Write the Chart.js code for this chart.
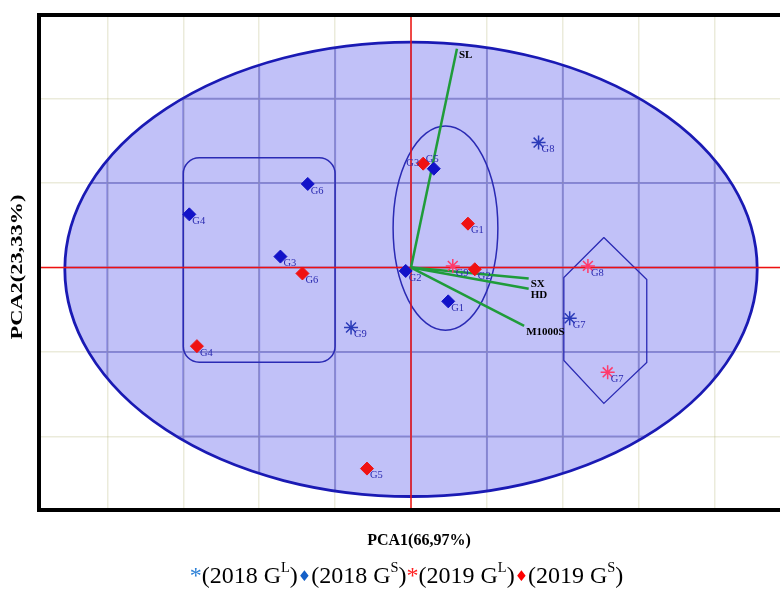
<!DOCTYPE html>
<html>
<head>
<meta charset="utf-8">
<script src="https://cdn.jsdelivr.net/npm/chart.js@4"></script>
<style>
  html, body { margin: 0; padding: 0; background: #fff; }
  #wrap { position: relative; width: 780px; height: 595px; overflow: hidden; }
  #legend {
    position: absolute; left: 0; width: 813px; top: 562px;
    text-align: center; white-space: nowrap;
    font-family: "Liberation Serif", "Times New Roman", serif; font-size: 24px; color: #000;
  }
  #legend sup { font-size: 0.6em; vertical-align: 0.75em; line-height: 0; }
  #legend .ast { font-size: 1em; }
  #legend .dia { font-family: "DejaVu Sans", sans-serif; font-size: 0.62em; vertical-align: 0.12em; }
</style>
</head>
<body>
<div id="wrap">
  <canvas id="pcaChart" width="780" height="595"></canvas>
  <div id="legend"><span class="ast" style="color:#2a7fd6">*</span>(2018 G<sup>L</sup>)<span class="dia" style="color:#1560c8">&#9830;</span>(2018 G<sup>S</sup>)<span class="ast" style="color:#ff2020">*</span>(2019 G<sup>L</sup>)<span class="dia" style="color:#ff0000">&#9830;</span>(2019 G<sup>S</sup>)</div>
</div>
<script>
// 軸の範囲（グリッド1目盛り = 1）
const xRange = [-4.9, 4.86];
const yRange = [-2.87, 2.99];

// 2018 GL（青の *）
const gl2018Labels = ['G8', 'G9', 'G7'];
const gl2018X = [1.68, -0.79, 2.09];
const gl2018Y = [1.48, -0.71, -0.60];

// 2018 GS（青の ◆）
const gs2018Labels = ['G6', 'G4', 'G3', 'G5', 'G2', 'G1'];
const gs2018X = [-1.36, -2.92, -1.72, 0.30, -0.07, 0.49];
const gs2018Y = [0.99, 0.63, 0.13, 1.17, -0.04, -0.40];

// 2019 GL（赤の *）
const gl2019Labels = ['G9', 'G8', 'G7'];
const gl2019X = [0.55, 2.33, 2.59];
const gl2019Y = [0.02, 0.02, -1.24];

// 2019 GS（赤の ◆）
const gs2019Labels = ['G3', 'G1', 'G2', 'G6', 'G4', 'G5'];
const gs2019X = [0.16, 0.75, 0.84, -1.43, -2.82, -0.58];
const gs2019Y = [1.23, 0.52, -0.02, -0.07, -0.93, -2.38];

// 変数ベクトル
const vectorNames = ['SL', 'SX', 'HD', 'M1000S'];
const vectorX = [0.605, 1.55, 1.55, 1.49];
const vectorY = [2.59, -0.13, -0.25, -0.69];

// グループの輪郭
const bigEllipse = [0.0, -0.02, 4.56, 2.69];   // cx, cy, rx, ry
const groupOval = [0.454, 0.467, 0.69, 1.21];  // cx, cy, rx, ry
const groupBox = [-3.0, 1.30, -1.0, -1.12];    // x1, y1, x2, y2
const hexX = [2.54, 3.105, 3.105, 2.54, 2.013, 2.013, 2.54];
const hexY = [0.355, -0.142, -1.123, -1.608, -1.099, -0.118, 0.355];

function toPoints(xs, ys) {
  return xs.map((x, i) => ({ x: x, y: ys[i] }));
}

function ellipsePath(ctx, chart, e) {
  const sx = chart.scales.x, sy = chart.scales.y;
  const cx = sx.getPixelForValue(e[0]);
  const cy = sy.getPixelForValue(e[1]);
  const rx = sx.getPixelForValue(e[0] + e[2]) - cx;
  const ry = cy - sy.getPixelForValue(e[1] + e[3]);
  ctx.beginPath();
  ctx.ellipse(cx, cy, rx, ry, 0, 0, Math.PI * 2);
}

// 背景・楕円の塗り・楕円内のグリッド・輪郭
const shapesBelow = {
  id: 'shapesBelow',
  beforeDraw(chart) {
    const ctx = chart.ctx;
    ctx.save();
    ctx.fillStyle = '#fff';
    ctx.fillRect(0, 0, chart.width, chart.height);
    const a = chart.chartArea;
    ctx.beginPath();
    ctx.rect(a.left, a.top, a.right - a.left, a.bottom - a.top);
    ctx.clip();
    ellipsePath(ctx, chart, bigEllipse);
    ctx.fillStyle = '#c1c1f8';
    ctx.fill();
    ctx.restore();
  },
  beforeDatasetsDraw(chart) {
    const ctx = chart.ctx;
    const sx = chart.scales.x, sy = chart.scales.y;
    const a = chart.chartArea;
    ctx.save();
    // 楕円の内側ではグリッドが濃い青に見える
    ellipsePath(ctx, chart, bigEllipse);
    ctx.clip();
    ctx.strokeStyle = 'rgba(60,60,195,0.42)';
    ctx.lineWidth = 2;
    ctx.beginPath();
    sx.ticks.forEach(t => {
      const px = sx.getPixelForValue(t.value);
      ctx.moveTo(px, a.top);
      ctx.lineTo(px, a.bottom);
    });
    sy.ticks.forEach(t => {
      const py = sy.getPixelForValue(t.value);
      ctx.moveTo(a.left, py);
      ctx.lineTo(a.right, py);
    });
    ctx.stroke();
    ctx.restore();

    ctx.save();
    ellipsePath(ctx, chart, bigEllipse);
    ctx.strokeStyle = '#1a1ab4';
    ctx.lineWidth = 2.8;
    ctx.stroke();

    ellipsePath(ctx, chart, groupOval);
    ctx.strokeStyle = '#2a2ab4';
    ctx.lineWidth = 1.5;
    ctx.stroke();

    const x1 = sx.getPixelForValue(groupBox[0]);
    const y1 = sy.getPixelForValue(groupBox[1]);
    const x2 = sx.getPixelForValue(groupBox[2]);
    const y2 = sy.getPixelForValue(groupBox[3]);
    ctx.beginPath();
    ctx.roundRect(x1, y1, x2 - x1, y2 - y1, 16);
    ctx.stroke();
    ctx.restore();
  }
};

// ラベル・枠線・軸タイトル
const annotations = {
  id: 'annotations',
  afterDatasetsDraw(chart) {
    const ctx = chart.ctx;
    ctx.save();
    // ベクトル名
    ctx.font = 'bold 11px "Liberation Serif"';
    ctx.fillStyle = '#000';
    ctx.textAlign = 'left';
    ctx.textBaseline = 'middle';
    chart.data.datasets.forEach((ds, i) => {
      if (!ds.vectorName) return;
      const end = chart.getDatasetMeta(i).data[1];
      ctx.fillText(ds.vectorName, end.x + 2, end.y + 6);
    });
    // 遺伝子型ラベル
    ctx.font = '10.5px "Liberation Serif"';
    ctx.fillStyle = '#2a2ab0';
    chart.data.datasets.forEach((ds, i) => {
      if (!ds.pointLabels) return;
      const meta = chart.getDatasetMeta(i);
      ds.pointLabels.forEach((lab, j) => {
        const p = meta.data[j];
        const off = (ds.labelOffsets && ds.labelOffsets[lab]) || [3, 7, 'left'];
        ctx.textAlign = off[2];
        ctx.fillText(lab, p.x + off[0], p.y + off[1]);
      });
    });
    ctx.restore();
  },
  afterDraw(chart) {
    const ctx = chart.ctx;
    const a = chart.chartArea;
    ctx.save();
    ctx.strokeStyle = '#000';
    ctx.lineWidth = 4;
    ctx.beginPath();
    ctx.moveTo(chart.width, a.top);
    ctx.lineTo(a.left, a.top);
    ctx.lineTo(a.left, a.bottom);
    ctx.lineTo(chart.width, a.bottom);
    ctx.stroke();

    ctx.fillStyle = '#000';
    ctx.textAlign = 'center';
    ctx.textBaseline = 'middle';
    ctx.font = 'bold 16px "Liberation Serif"';
    ctx.fillText('PCA1(66,97%)', 419, 541);

    ctx.translate(18, 267);
    ctx.rotate(-Math.PI / 2);
    ctx.scale(1.4, 1);
    ctx.fillText('PCA2(23,33%)', 0, 0);
    ctx.restore();
  }
};

const datasets = [
  {
    label: '2019 GS', data: toPoints(gs2019X, gs2019Y), pointLabels: gs2019Labels,
    labelOffsets: { G3: [-4, 0, 'right'] },
    pointStyle: 'rectRot', pointRadius: 6.5, backgroundColor: '#f01212', borderColor: '#f01212',
    borderWidth: 1, order: 1
  },
  {
    label: '2018 GS', data: toPoints(gs2018X, gs2018Y), pointLabels: gs2018Labels,
    labelOffsets: { G5: [-8, -9, 'left'] },
    pointStyle: 'rectRot', pointRadius: 6.5, backgroundColor: '#1212c8', borderColor: '#1212c8',
    borderWidth: 1, order: 2
  },
  {
    label: '2019 GL', data: toPoints(gl2019X, gl2019Y), pointLabels: gl2019Labels,
    pointStyle: 'star', pointRadius: 7, borderColor: '#ff3a6a', borderWidth: 1.5, order: 3
  },
  {
    label: '2018 GL', data: toPoints(gl2018X, gl2018Y), pointLabels: gl2018Labels,
    pointStyle: 'star', pointRadius: 7, borderColor: '#2a3ab8', borderWidth: 1.5, order: 4
  }
];

vectorNames.forEach((name, i) => {
  datasets.push({
    label: name, vectorName: name,
    data: [{ x: 0, y: 0 }, { x: vectorX[i], y: vectorY[i] }],
    showLine: true, borderColor: '#1f9c3a', borderWidth: 2.5, pointRadius: 0, order: 10
  });
});

// 原点を通る赤い線
datasets.push({
  label: 'axis-h', data: [{ x: xRange[0], y: 0 }, { x: xRange[1], y: 0 }],
  showLine: true, borderColor: '#ee1111', borderWidth: 1.5, pointRadius: 0, order: 20
});
datasets.push({
  label: 'axis-v', data: [{ x: 0, y: yRange[0] }, { x: 0, y: yRange[1] }],
  showLine: true, borderColor: '#ee1111', borderWidth: 1.5, pointRadius: 0, order: 20
});

// 六角形
datasets.push({
  label: 'hex', data: toPoints(hexX, hexY),
  showLine: true, borderColor: '#2a2ab4', borderWidth: 1.3, pointRadius: 0, order: 30
});

function onlyIntegerTicks(scale) {
  scale.ticks = scale.ticks.filter(t => Number.isInteger(t.value));
}

new Chart(document.getElementById('pcaChart'), {
  type: 'scatter',
  data: { datasets: datasets },
  options: {
    responsive: false,
    animation: false,
    layout: { autoPadding: false, padding: { top: 15, right: 0, left: 0, bottom: 0 } },
    plugins: { legend: { display: false }, tooltip: { enabled: false } },
    scales: {
      x: {
        type: 'linear', min: xRange[0], max: xRange[1],
        ticks: { display: false, stepSize: 1 },
        grid: { color: 'rgba(175,175,110,0.25)', lineWidth: 1.5, drawTicks: false },
        border: { display: false },
        afterBuildTicks: onlyIntegerTicks,
        afterFit: s => { s.height = 85; }
      },
      y: {
        type: 'linear', min: yRange[0], max: yRange[1],
        ticks: { display: false, stepSize: 1 },
        grid: { color: 'rgba(175,175,110,0.25)', lineWidth: 1.5, drawTicks: false },
        border: { display: false },
        afterBuildTicks: onlyIntegerTicks,
        afterFit: s => { s.width = 39; }
      }
    }
  },
  plugins: [shapesBelow, annotations]
});
</script>
</body>
</html>
